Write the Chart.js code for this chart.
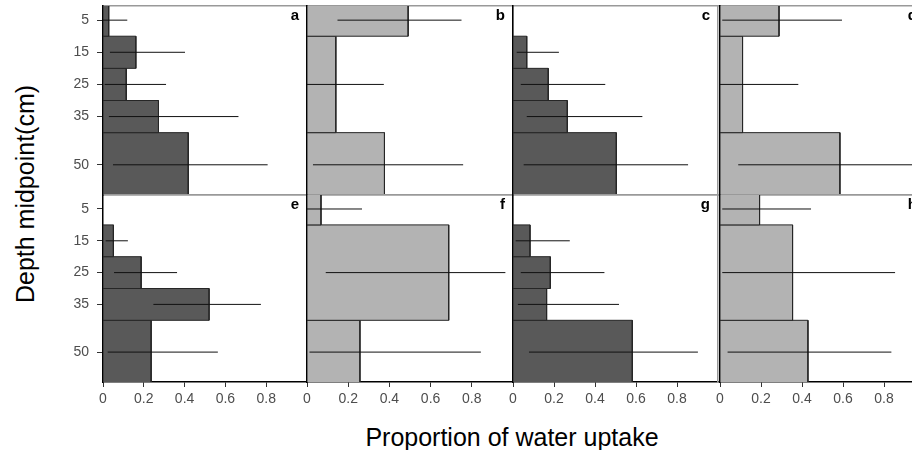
<!DOCTYPE html>
<html lang="en">
<head>
    <meta charset="UTF-8">
    <title>Proportion of water uptake by depth</title>
    <script src="https://cdn.jsdelivr.net/npm/chart.js"></script>
    <style>
        html, body { margin: 0; padding: 0; background: #fff; }
        body { width: 912px; height: 450px; overflow: hidden; position: relative; font-family: 'Liberation Sans', Arial, sans-serif; }
        canvas { position: absolute; }
        .title { position: absolute; font-size: 25px; color: #000; white-space: nowrap; }
        #xTitle { left: 512px; top: 437px; transform: translate(-50%, -50%); }
        #yTitle { left: 25px; top: 194px; transform: translate(-50%, -50%) rotate(-90deg); }
    </style>
</head>
<body>
    <div id="xTitle" class="title">Proportion of water uptake</div>
    <div id="yTitle" class="title">Depth midpoint(cm)</div>

    <script>
        // depth bins (cm) - dark panels use 10 cm layers, light panels are pooled
        const darkMid = [5, 15, 25, 35, 50];
        const darkTop = [0, 10, 20, 30, 40];
        const darkBottom = [10, 20, 30, 40, 60];
        const lightMid = [5, 25, 50];
        const lightTop = [0, 10, 40];
        const lightBottom = [10, 40, 60];

        const depthTicks = [5, 15, 25, 35, 50];
        const uptakeTicks = [0, 0.2, 0.4, 0.6, 0.8];
        const panelLetters = ['a', 'b', 'c', 'd', 'e', 'f', 'g', 'h'];

        // mean proportion and error bar limits per panel (null = nothing drawn)
        const aMean = [0.028, 0.161, 0.114, 0.272, 0.418];
        const aLow = [0, 0.034, 0.008, 0.029, 0.049];
        const aHigh = [0.119, 0.402, 0.309, 0.664, 0.807];

        const bMean = [0.491, 0.140, 0.376];
        const bLow = [0.148, 0, 0.029];
        const bHigh = [0.750, 0.373, 0.758];

        const cMean = [null, 0.067, 0.172, 0.265, 0.504];
        const cLow = [null, 0.018, 0.038, 0.067, 0.052];
        const cHigh = [null, 0.224, 0.450, 0.631, 0.854];

        const dMean = [0.288, 0.110, 0.585];
        const dLow = [0.011, 0, 0.089];
        const dHigh = [0.595, 0.382, 1.0];

        const eMean = [null, 0.051, 0.187, 0.520, 0.236];
        const eLow = [null, 0.013, 0.054, 0.247, 0.023];
        const eHigh = [null, 0.122, 0.363, 0.774, 0.563];

        const fMean = [0.068, 0.688, 0.257];
        const fLow = [0, 0.091, 0.012];
        const fHigh = [0.267, 0.963, 0.844];

        const gMean = [null, 0.083, 0.182, 0.164, 0.582];
        const gLow = [null, 0.013, 0.038, 0.024, 0.078];
        const gHigh = [null, 0.277, 0.446, 0.517, 0.902];

        const hMean = [0.193, 0.354, 0.429];
        const hLow = [0.011, 0.011, 0.037];
        const hHigh = [0.444, 0.854, 0.836];

        const DARK = '#595959';
        const LIGHT = '#b3b3b3';
        const FONT = "'Liberation Sans', Arial, sans-serif";

        // panel grid geometry
        const plotLefts = [103, 307, 513, 720];
        const plotWidths = [204, 206, 205, 205];
        const rowTops = [6, 195];
        const rowHeights = [189, 187];
        const pad = { left: 8, right: 8, top: 2, bottom: 2 };

        // letter in the top right corner of each panel
        const letterPlugin = {
            id: 'panelLetter',
            afterDraw(chart) {
                const area = chart.chartArea;
                const ctx = chart.ctx;
                ctx.save();
                ctx.font = 'bold 15px ' + FONT;
                ctx.fillStyle = '#000';
                ctx.textAlign = 'right';
                ctx.textBaseline = 'top';
                ctx.fillText(chart.options.plugins.panelLetter.text, area.right - 8, area.top + 2);
                ctx.restore();
            }
        };

        // fixed axis sizes so all panels line up
        function fixSize(s, w, h) {
            if (w !== null) s.width = w;
            if (h !== null) s.height = h;
            s.paddingTop = 0;
            s.paddingBottom = 0;
            s.paddingLeft = 0;
            s.paddingRight = 0;
        }

        function makePanel(index, mid, top, bottom, mean, low, high, color) {
            const col = index % 4;
            const row = Math.floor(index / 4);
            const yW = col === 0 ? 60 : 0;
            const xH = row === 1 ? 30 : 0;

            const canvas = document.createElement('canvas');
            canvas.width = pad.left + yW + plotWidths[col] + pad.right;
            canvas.height = pad.top + rowHeights[row] + xH + pad.bottom;
            canvas.style.left = (plotLefts[col] - yW - pad.left) + 'px';
            canvas.style.top = (rowTops[row] - pad.top) + 'px';
            document.body.appendChild(canvas);

            const datasets = [];
            mean.forEach((v, i) => {
                if (v === null) return;
                datasets.push({
                    data: [
                        { x: 0, y: top[i] }, { x: v, y: top[i] },
                        { x: v, y: bottom[i] }, { x: 0, y: bottom[i] }, { x: 0, y: top[i] }
                    ],
                    order: 2,
                    showLine: true,
                    fill: 'shape',
                    backgroundColor: color,
                    borderColor: '#262626',
                    borderWidth: 1,
                    pointRadius: 0,
                    tension: 0
                });
            });
            low.forEach((v, i) => {
                if (v === null) return;
                datasets.push({
                    data: [{ x: v, y: mid[i] }, { x: high[i], y: mid[i] }],
                    order: 1,
                    showLine: true,
                    fill: false,
                    borderColor: '#111',
                    borderWidth: 1,
                    pointRadius: 0
                });
            });

            const tickFont = { size: 14, family: FONT };

            return new Chart(canvas.getContext('2d'), {
                type: 'scatter',
                data: { datasets: datasets },
                plugins: [letterPlugin],
                options: {
                    responsive: false,
                    animation: false,
                    events: [],
                    layout: { padding: pad },
                    plugins: {
                        legend: { display: false },
                        tooltip: { enabled: false },
                        panelLetter: { text: panelLetters[index] }
                    },
                    scales: {
                        x: {
                            type: 'linear', position: 'bottom', min: 0, max: 1,
                            afterBuildTicks: s => { s.ticks = uptakeTicks.map(v => ({ value: v })); },
                            afterFit: s => fixSize(s, null, xH),
                            ticks: { display: row === 1, color: '#4d4d4d', font: tickFont, padding: 4, callback: v => String(v) },
                            grid: { drawOnChartArea: false, drawTicks: row === 1, tickLength: 5, color: '#333' },
                            border: { color: row === 1 ? '#000' : '#999', width: 1.5 }
                        },
                        xTop: {
                            axis: 'x', type: 'linear', position: 'top', min: 0, max: 1,
                            afterFit: s => fixSize(s, null, 0),
                            ticks: { display: false },
                            grid: { drawOnChartArea: false, drawTicks: false },
                            border: { color: '#999', width: 1.5 }
                        },
                        y: {
                            type: 'linear', position: 'left', reverse: true, min: 0.6, max: 59.4, z: 1,
                            afterBuildTicks: s => { s.ticks = depthTicks.map(v => ({ value: v })); },
                            afterFit: s => fixSize(s, yW, null),
                            ticks: { display: col === 0, color: '#4d4d4d', font: tickFont, padding: 8 },
                            grid: { drawOnChartArea: false, drawTicks: col === 0, tickLength: 6, color: '#333' },
                            border: { color: '#000', width: 1.5 }
                        },
                        yRight: {
                            axis: 'y', type: 'linear', position: 'right', reverse: true, min: 0.6, max: 59.4,
                            afterFit: s => fixSize(s, 0, null),
                            ticks: { display: false },
                            grid: { drawOnChartArea: false, drawTicks: false },
                            border: { color: '#999', width: 1.5 }
                        }
                    }
                }
            });
        }

        makePanel(0, darkMid, darkTop, darkBottom, aMean, aLow, aHigh, DARK);
        makePanel(1, lightMid, lightTop, lightBottom, bMean, bLow, bHigh, LIGHT);
        makePanel(2, darkMid, darkTop, darkBottom, cMean, cLow, cHigh, DARK);
        makePanel(3, lightMid, lightTop, lightBottom, dMean, dLow, dHigh, LIGHT);
        makePanel(4, darkMid, darkTop, darkBottom, eMean, eLow, eHigh, DARK);
        makePanel(5, lightMid, lightTop, lightBottom, fMean, fLow, fHigh, LIGHT);
        makePanel(6, darkMid, darkTop, darkBottom, gMean, gLow, gHigh, DARK);
        makePanel(7, lightMid, lightTop, lightBottom, hMean, hLow, hHigh, LIGHT);
    </script>
</body>
</html>
